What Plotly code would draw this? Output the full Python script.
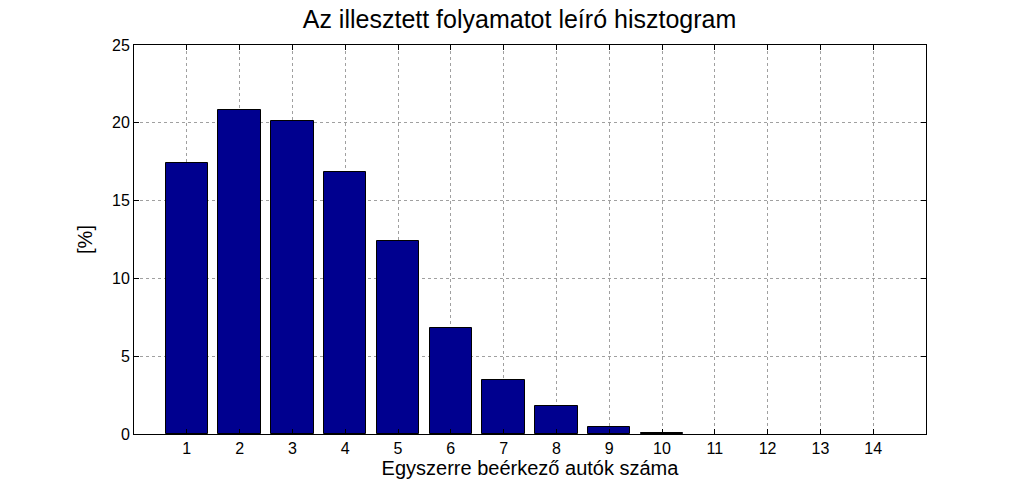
import plotly.graph_objects as go

cars = list(range(1, 15))
percent = [17.4, 20.85, 20.1, 16.85, 12.4, 6.8, 3.45, 1.8, 0.45, 0.08, 0, 0, 0, 0]

fig = go.Figure()
fig.add_trace(go.Bar(
    x=cars, y=percent, width=0.8,
    marker=dict(color='#00008F',
                line=dict(color='black', width=[1 if v > 0 else 0 for v in percent])),
))

axis_common = dict(
    showline=True, linecolor='black', linewidth=1, mirror='ticks',
    ticks='inside', ticklen=5, tickcolor='black',
    showgrid=True, gridcolor='#a0a0a0', griddash='dot', gridwidth=1,
    zeroline=False, tickfont=dict(size=16, color='black'),
)

fig.update_layout(
    width=1023, height=488,
    margin=dict(l=126, r=105, t=37, b=62),
    paper_bgcolor='white', plot_bgcolor='white',
    font=dict(family='Liberation Sans, Arial', color='black'),
    title=dict(text='Az illesztett folyamatot leíró hisztogram', x=0.5, xanchor='center',
               y=0.995, yanchor='top', font=dict(size=25)),
    xaxis=dict(range=[0, 15], tickvals=cars,
               title=dict(text='Egyszerre beérkező autók száma', font=dict(size=20), standoff=2),
               **axis_common),
    yaxis=dict(range=[0, 25], dtick=5,
               title=dict(text='[%]', font=dict(size=20), standoff=14),
               **axis_common),
    showlegend=False,
    bargap=0,
)

fig.write_html("out.html")
